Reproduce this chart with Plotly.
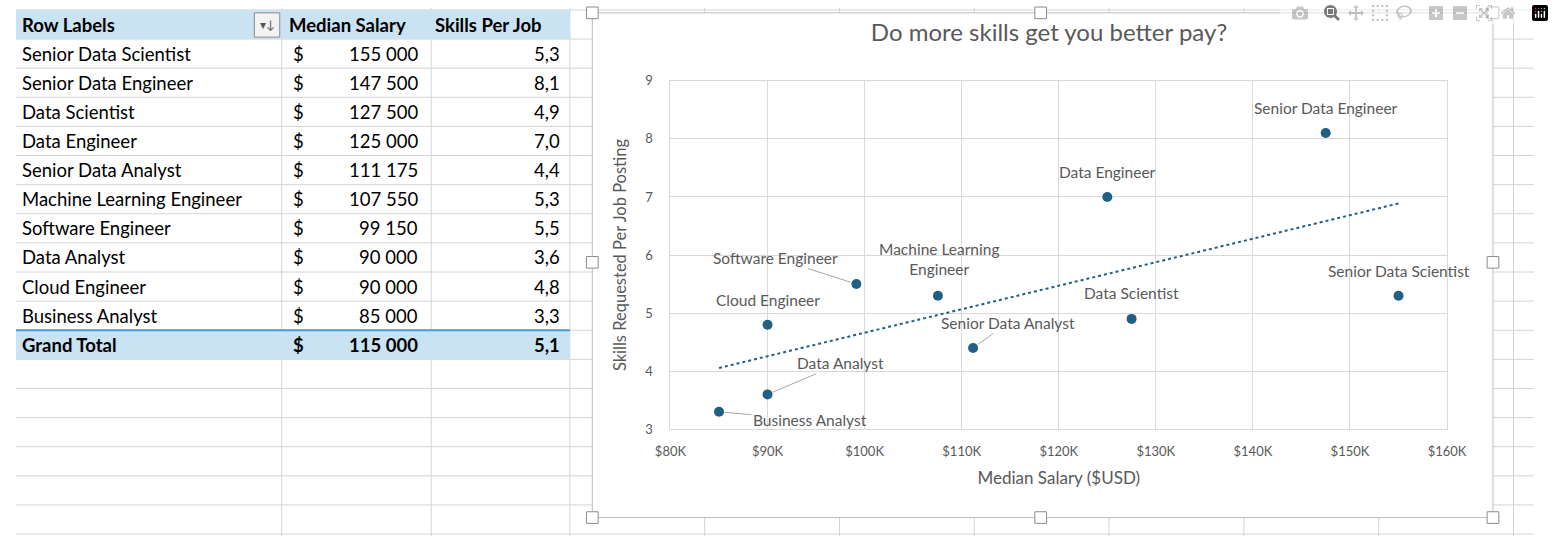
import numpy as np
import plotly.graph_objects as go

W, H = 1554, 544

job_titles = ["Senior Data Scientist", "Senior Data Engineer", "Data Scientist", "Data Engineer",
              "Senior Data Analyst", "Machine Learning Engineer", "Software Engineer",
              "Data Analyst", "Cloud Engineer", "Business Analyst"]
median_salary = [155000, 147500, 127500, 125000, 111175, 107550, 99150, 90000, 90000, 85000]
skills_per_job = [5.3, 8.1, 4.9, 7.0, 4.4, 5.3, 5.5, 3.6, 4.8, 3.3]
grand_total_salary = 115000
grand_total_skills = 5.1

# label offsets (px) for each point: (ax, ay, leader line)
label_pos = {
    "Senior Data Scientist": (0, -25, False),
    "Senior Data Engineer": (0, -25, False),
    "Data Scientist": (0, -26, False),
    "Data Engineer": (0, -25, False),
    "Senior Data Analyst": (35, -25, True),
    "Machine Learning Engineer": (1, -37, False),
    "Software Engineer": (-81, -26, True),
    "Data Analyst": (73, -31, True),
    "Cloud Engineer": (0, -25, False),
    "Business Analyst": (91, 8, True),
}

FONT = "Lato"
GRAY = "#595959"
BLUE = "#215F85"


def px(x):
    return x / W


def py(y):
    return 1 - y / H


def money(v):
    return f"{v:,}".replace(",", " ")


def dec(v):
    return f"{v:.1f}".replace(".", ",")


fig = go.Figure()

fig.add_trace(go.Scatter(x=median_salary, y=skills_per_job, mode="markers",
                         marker=dict(color=BLUE, size=10), showlegend=False))

# linear trendline like Excel
slope, intercept = np.polyfit(median_salary, skills_per_job, 1)
tx = [min(median_salary), max(median_salary)]
fig.add_trace(go.Scatter(x=tx, y=[slope * v + intercept for v in tx], mode="lines",
                         line=dict(color=BLUE, width=2, dash="dot"), showlegend=False))

shapes = []
ann = []

# excel grid lines behind everything
for gx in [272, 425, 567, 705, 843, 981, 1119, 1257, 1395, 1533]:
    shapes.append(dict(type="line", xref="paper", yref="paper", x0=px(gx), x1=px(gx),
                       y0=0, y1=1, line=dict(color="#d4d4d4", width=1), layer="below"))
for r in range(19):
    gy = 2 + 30 * r
    shapes.append(dict(type="line", xref="paper", yref="paper", x0=0, x1=1,
                       y0=py(gy), y1=py(gy), line=dict(color="#d4d4d4", width=1), layer="below"))

# white chart area
shapes.append(dict(type="rect", xref="paper", yref="paper", x0=px(590), x1=px(1512),
                   y0=py(525), y1=py(5), fillcolor="white", line=dict(color="#bfbfbf", width=1),
                   layer="below"))
for hx, hy in [(590, 5), (1049, 5), (1512, 5), (590, 262), (1512, 262),
               (590, 525), (1049, 525), (1512, 525)]:
    shapes.append(dict(type="rect", xref="paper", yref="paper", x0=px(hx - 6), x1=px(hx + 6),
                       y0=py(hy + 6), y1=py(hy - 6), fillcolor="white",
                       line=dict(color="#8c8c8c", width=1)))

# pivot table header and total rows
for y0, y1 in [(2, 32), (332, 362)]:
    shapes.append(dict(type="rect", xref="paper", yref="paper", x0=0, x1=px(567),
                       y0=py(y1), y1=py(y0), fillcolor="#C9E3F3", line=dict(width=0), layer="below"))
shapes.append(dict(type="line", xref="paper", yref="paper", x0=0, x1=px(567),
                   y0=py(332), y1=py(332), line=dict(color="#4A9BD1", width=2)))
shapes.append(dict(type="rect", xref="paper", yref="paper", x0=px(244), x1=px(270),
                   y0=py(30), y1=py(5), fillcolor="#f2f2f2", line=dict(color="#8c8c8c", width=1)))
ann.append(dict(x=px(257), y=py(17), xref="paper", yref="paper", text="▾↓", showarrow=False,
                xanchor="center", yanchor="middle", font=dict(size=12, color="#555555")))


def cell(text, x, y, anchor, bold=False):
    t = f"<b>{text}</b>" if bold else text
    ann.append(dict(x=px(x), y=py(y), xref="paper", yref="paper", text=t, showarrow=False,
                    xanchor=anchor, yanchor="middle", font=dict(family=FONT, size=18.5, color="black")))


cell("Row Labels", 4, 17, "left", True)
cell("Median Salary", 277, 17, "left", True)
cell("Skills Per Job", 427, 17, "left", True)
for i, name in enumerate(job_titles):
    yy = 47 + 30 * i
    cell(name, 4, yy, "left")
    cell("$", 282, yy, "left")
    cell(money(median_salary[i]), 414, yy, "right")
    cell(dec(skills_per_job[i]), 559, yy, "right")
cell("Grand Total", 4, 347, "left", True)
cell("$", 282, 347, "left", True)
cell(money(grand_total_salary), 414, 347, "right", True)
cell(dec(grand_total_skills), 559, 347, "right", True)

# point labels
for name, sx, sk in zip(job_titles, median_salary, skills_per_job):
    ax, ay, lead = label_pos[name]
    txt = "Machine Learning<br>Engineer" if name == "Machine Learning Engineer" else name
    ann.append(dict(x=sx, y=sk, xref="x", yref="y", text=txt, showarrow=lead, ax=ax, ay=ay,
                    arrowhead=0, arrowwidth=1, arrowcolor="#a6a6a6", standoff=6,
                    xshift=0 if lead else ax, yshift=0 if lead else -ay,
                    font=dict(family=FONT, size=15.5, color=GRAY)))

fig.update_layout(
    width=W, height=H, margin=dict(l=0, r=0, t=0, b=0),
    paper_bgcolor="white", plot_bgcolor="white",
    font=dict(family=FONT, color=GRAY),
    title=dict(text="Do more skills get you better pay?", x=px(1049), xanchor="center",
               y=py(33), yanchor="middle", font=dict(size=24, color=GRAY)),
    xaxis=dict(domain=[px(670), px(1465)], range=[80000, 160000],
               tickvals=list(range(80000, 160001, 10000)),
               ticktext=[f"${v // 1000}K" for v in range(80000, 160001, 10000)],
               gridcolor="#d9d9d9", showline=True, mirror=True, linecolor="#d9d9d9",
               zeroline=False, tickfont=dict(size=13, color=GRAY), ticklabelstandoff=10,
               title=dict(text="Median Salary ($USD)", font=dict(size=17, color=GRAY), standoff=14)),
    yaxis=dict(domain=[py(434), py(75)], range=[3, 9], dtick=1,
               gridcolor="#d9d9d9", showline=True, mirror=True, linecolor="#d9d9d9",
               zeroline=False, tickfont=dict(size=13, color=GRAY), ticks="", ticklabelstandoff=14,
               title=dict(text="Skills Requested Per Job Posting", font=dict(size=16.5, color=GRAY),
                          standoff=14)),
    shapes=shapes, annotations=ann,
)

fig.write_html("out.html",
               post_script="document.body.style.margin='0';document.body.style.overflow='hidden';")
